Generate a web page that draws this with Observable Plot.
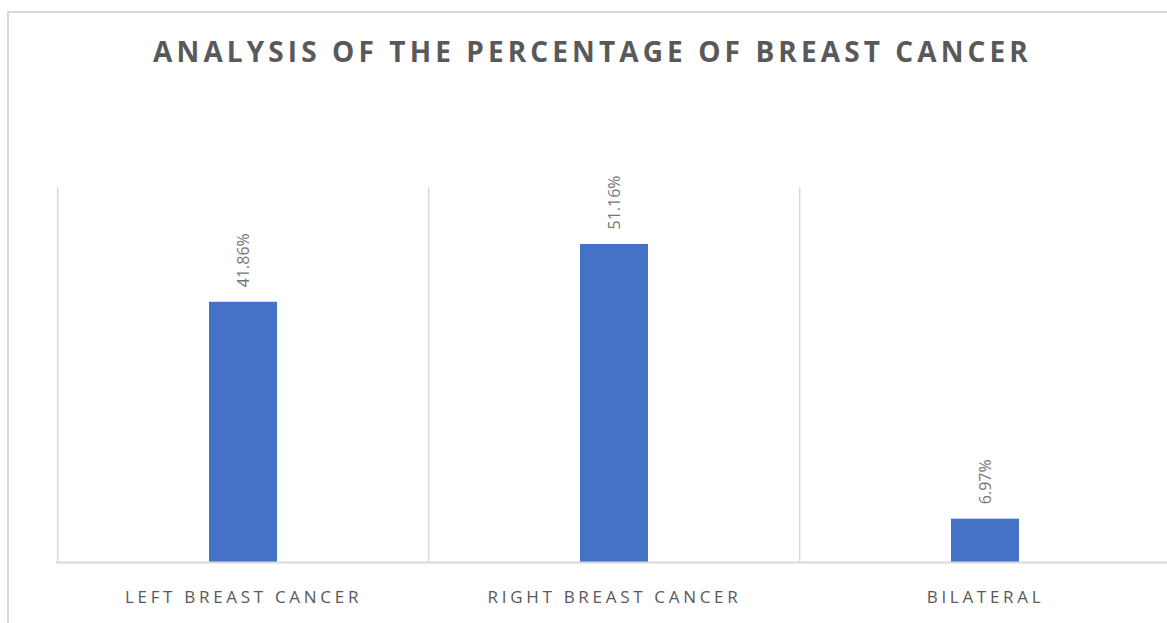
<!DOCTYPE html>
<html>
<head>
<meta charset="utf-8">
<script src="https://cdn.jsdelivr.net/npm/d3@7"></script>
<script src="https://cdn.jsdelivr.net/npm/@observablehq/plot@0.6"></script>
<style>
  html, body { margin: 0; padding: 0; background: #fff; overflow: hidden; width: 1167px; height: 623px; }
  #frame { position: absolute; left: 7px; top: 11px; width: 1200px; height: 700px; border-left: 2px solid #d9d9d9; border-top: 2px solid #d9d9d9; }
  #title { position: absolute; left: 0; top: 32px; width: 1185px; text-align: center; font-family: "Open Sans", sans-serif; font-weight: 700; font-size: 28px; letter-spacing: 4.1px; color: #595959; }
  #chart { position: absolute; left: 0; top: 0; width: 1180px; }
  #chart svg { max-width: none !important; }
</style>
</head>
<body>
<div id="frame"></div>
<div id="chart"></div>
<div id="title">ANALYSIS OF THE PERCENTAGE OF BREAST CANCER</div>
<script>
const categories = ["LEFT BREAST CANCER", "RIGHT BREAST CANCER", "BILATERAL"];
const values = [41.86, 51.16, 6.97];
const labels = ["41.86%", "51.16%", "6.97%"];

const data = categories.map((c, i) => ({category: c, value: values[i], label: labels[i]}));

const width = 1171, marginLeft = 56, marginRight = 0;
const step = (width - marginLeft - marginRight) / categories.length;

const chart = Plot.plot({
  width,
  height: 623,
  marginTop: 189,
  marginBottom: 61,
  marginLeft,
  marginRight,
  style: {fontFamily: "'Open Sans', sans-serif", color: "#595959", background: "transparent", maxWidth: "none"},
  x: {domain: categories, paddingInner: 0.817, paddingOuter: 0.4085, label: null},
  y: {domain: [0, 60], axis: null},
  marks: [
    Plot.ruleX(categories, {x: d => d, y1: 0, y2: 60.3, dx: -step / 2, stroke: "#d9d9d9", strokeWidth: 1.5}),
    Plot.barY(data, {x: "category", y: "value", fill: "#4472c4"}),
    Plot.ruleY([0], {stroke: "#d9d9d9", strokeWidth: 2}),
    Plot.text(data, {x: "category", y: "value", text: "label", rotate: -90, textAnchor: "start", dy: -15, fill: "#767676", fontSize: 16, style: "letter-spacing:1px"}),
    Plot.axisX({tickSize: 0, tickPadding: 28, fontSize: 17, fill: "#595959", label: null})
  ]
});
chart.querySelectorAll('[aria-label="x-axis tick label"] text').forEach(t => t.style.letterSpacing = "3.7px");
document.getElementById("chart").appendChild(chart);
</script>
</body>
</html>
